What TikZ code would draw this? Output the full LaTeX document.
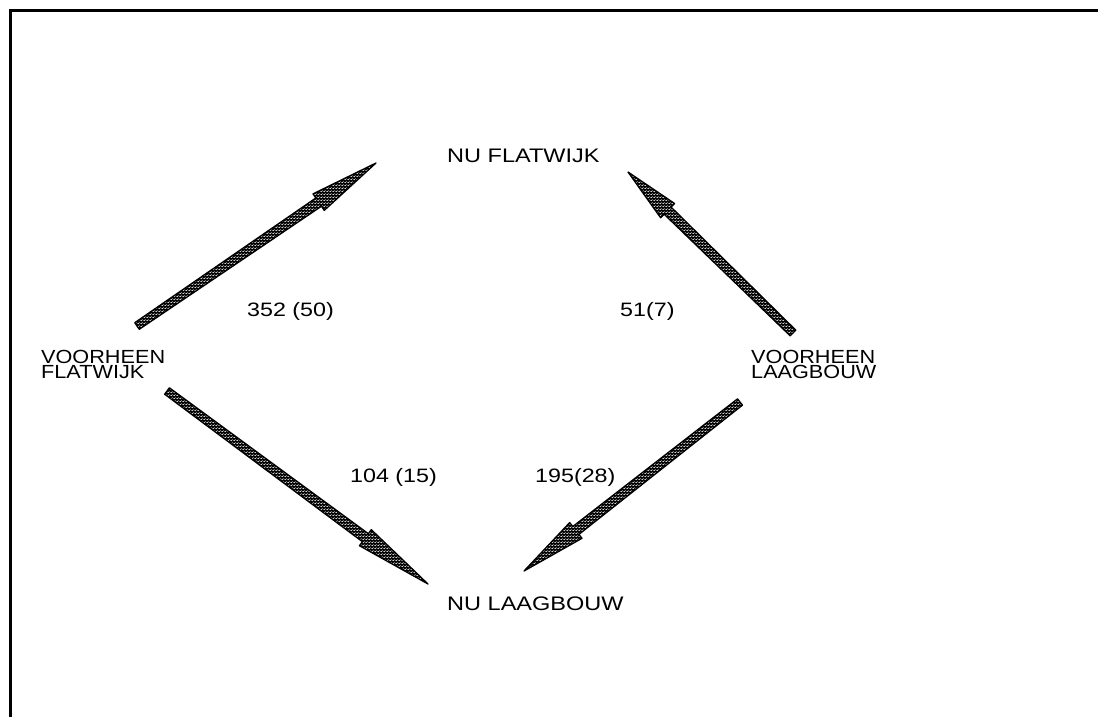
\documentclass[tikz,border=0pt]{standalone}
\usepackage{fontspec}
\setmainfont[FakeStretch=1.2]{Liberation Sans}
\newfontfamily\cornerfont[FakeStretch=1.14]{Liberation Sans}
\usetikzlibrary{calc,patterns}

% speckled texture for the flow arrows
\pgfdeclarepatternformonly{speckle}{\pgfpoint{-1pt}{-1pt}}{\pgfpoint{4pt}{4pt}}{\pgfpoint{3pt}{3pt}}{%
  \pgfsetlinewidth{0.6pt}%
  \pgfpathmoveto{\pgfpoint{0pt}{0pt}}\pgfpathlineto{\pgfpoint{1.5pt}{1.5pt}}\pgfusepath{stroke}%
  \pgfpathcircle{\pgfpoint{2.3pt}{0.6pt}}{0.35pt}\pgfusepath{fill}%
}

\tikzset{
  frameline/.style={line width=3pt, line cap=rect},
  arrowbody/.style={preaction={fill=black}, pattern=speckle, pattern color=white,
    postaction={draw=black, line width=1.3pt, line join=round}},
  place/.style={font=\fontsize{19.6}{20}\selectfont, anchor=base west, inner sep=0pt},
  amount/.style={font=\fontsize{19.4}{20}\selectfont, anchor=base west, inner sep=0pt},
  origin/.style={font=\cornerfont\fontsize{19}{15}\selectfont, anchor=base west, inner sep=0pt},
}

% tapered flow arrow from #1 (tail) to #2 (tip)
\newcommand\flowarrow[2]{%
  \path[arrowbody]
    ($(#1)!4pt!90:(#2)$) -- ($(#1)!4pt!-90:(#2)$)
    -- ($(#1)!0.76!(#2)!5pt!-90:(#2)$) -- ($(#1)!0.76!(#2)!10pt!-90:(#2)$)
    -- (#2)
    -- ($(#1)!0.76!(#2)!10pt!90:(#2)$) -- ($(#1)!0.76!(#2)!5pt!90:(#2)$)
    -- cycle;}

\begin{document}
\begin{tikzpicture}[x=1pt,y=-1pt]
\useasboundingbox (0,0) rectangle (1098,717);

% frame
\draw[frameline] (10,717) -- (10,10.5) -- (1098,10.5);

% labels
\node[place] (nuflat) at (447,162) {NU FLATWIJK};
\node[place] (nulaag) at (447,610) {NU LAAGBOUW};
\node[origin] (vflat1) at (41,363) {VOORHEEN};
\node[origin] (vflat2) at (41,378) {FLATWIJK};
\node[origin] (vlaag1) at (751,363) {VOORHEEN};
\node[origin] (vlaag2) at (751,378) {LAAGBOUW};

\node[amount] (n1) at (247,316) {352 (50)};
\node[amount] (n2) at (620,316) {51(7)};
\node[amount] (n3) at (350,482) {104 (15)};
\node[amount] (n4) at (535,482) {195(28)};

% arrow ends
\coordinate (fa) at (137,326);  \coordinate (ta) at (376,163);
\coordinate (fb) at (167,391);  \coordinate (tb) at (428,584);
\coordinate (fc) at (740,402);  \coordinate (tc) at (524,571);
\coordinate (fd) at (793,333);  \coordinate (td) at (628,172);

\flowarrow{fa}{ta}
\flowarrow{fb}{tb}
\flowarrow{fc}{tc}
\flowarrow{fd}{td}
\end{tikzpicture}
\end{document}
